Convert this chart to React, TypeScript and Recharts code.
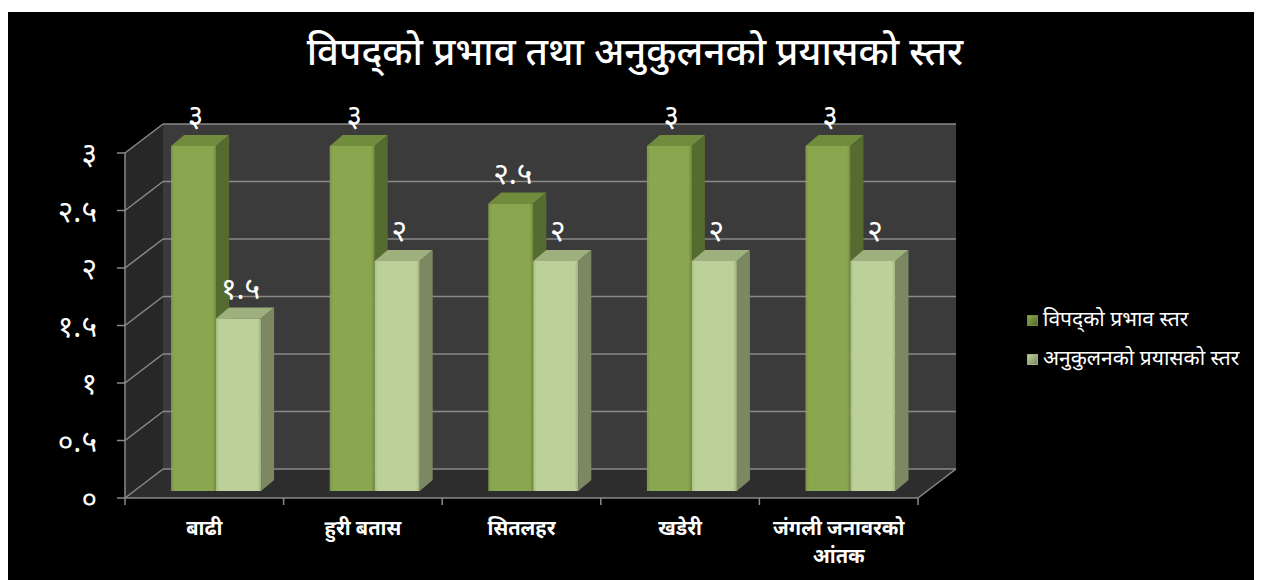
import React from 'react'
import { BarChart, Bar, XAxis, YAxis, CartesianGrid, LabelList } from 'recharts'

const categories = ['बाढी', 'हुरी बतास', 'सितलहर', 'खडेरी', 'जंगली जनावरको आंतक']
const impactLevel = [3, 3, 2.5, 3, 3]
const adaptationLevel = [1.5, 2, 2, 2, 2]
const yTicks = [0, 0.5, 1, 1.5, 2, 2.5, 3]

const SERIES = [
  { key: 'impact', label: 'विपद्को प्रभाव स्तर', front: '#8aa64e', side: '#566b2f', top: '#708c3c' },
  { key: 'adapt', label: 'अनुकुलनको प्रयासको स्तर', front: '#bcd19a', side: '#7b8862', top: '#9eb07e' },
]

const data = categories.map((name, i) => ({ name, impact: impactLevel[i], adapt: adaptationLevel[i] }))

const W = 1254
const H = 568
// front plane of the 3D box
const PL = 117
const PR = 910
const PT = 141
const PB = 486
const DX = 38 // depth offset to back wall
const DY = 29
const BAND = (PR - PL) / categories.length
// bars sit a bit inside the box
const BX = 12
const BY = -7
const SIDE_X = 13
const SIDE_Y = 11

const FONT = '"Noto Sans Devanagari", "Lohit Devanagari", Mangal, "Noto Sans", "DejaVu Sans", sans-serif'
const GRID = '#8a8a8a'

const DEV_DIGITS = ['०', '१', '२', '३', '४', '५', '६', '७', '८', '९']
const toDev = (v: number | string) => String(v).replace(/[0-9]/g, d => DEV_DIGITS[Number(d)])

function Bar3D(props: any) {
  const { x, y, width, height } = props
  const s = SERIES[props.seriesIndex ?? 0]
  if (height == null || height <= 0) return null
  const fx = x + BX
  const fy = y + BY
  return (
    <g>
      <polygon
        points={`${fx},${fy} ${fx + SIDE_X},${fy - SIDE_Y} ${fx + width + SIDE_X},${fy - SIDE_Y} ${fx + width},${fy}`}
        fill={s.top}
      />
      <polygon
        points={`${fx + width},${fy} ${fx + width + SIDE_X},${fy - SIDE_Y} ${fx + width + SIDE_X},${fy + height - SIDE_Y} ${fx + width},${fy + height}`}
        fill={s.side}
      />
      <rect x={fx} y={fy} width={width} height={height} fill={`url(#front-${s.key})`} />
    </g>
  )
}

function BarLabel(props: any) {
  const { x, y, width, value } = props
  return (
    <text
      x={x + BX + width / 2 + 2}
      y={y + BY - SIDE_Y - 9}
      textAnchor="middle"
      fill="#fff"
      fontSize={30}
      fontFamily={FONT}
    >
      {toDev(value)}
    </text>
  )
}

function YTick(props: any) {
  const { x, y, payload } = props
  return (
    <text x={x} y={y} dy={11} textAnchor="end" fill="#fff" fontSize={30} fontFamily={FONT}>
      {toDev(payload.value)}
    </text>
  )
}

function XTick(props: any) {
  const { x, y, payload, index } = props
  const words = String(payload.value)
  const lines = words.length > 12 ? ['जंगली जनावरको', 'आंतक'] : [words]
  return (
    <g>
      <line x1={x - BAND / 2} x2={x - BAND / 2} y1={PB} y2={PB + 7} stroke={GRID} strokeWidth={1.5} />
      {index === categories.length - 1 && (
        <line x1={x + BAND / 2} x2={x + BAND / 2} y1={PB} y2={PB + 7} stroke={GRID} strokeWidth={1.5} />
      )}
      {lines.map((l, i) => (
        <text
          key={i}
          x={x}
          y={y + 29 + i * 28}
          textAnchor="middle"
          fill="#fff"
          fontSize={20}
          fontWeight="bold"
          fontFamily={FONT}
        >
          {l}
        </text>
      ))}
    </g>
  )
}

// back wall gridline plus the diagonal on the side wall
function GridLine(props: any) {
  const { x1, x2, y1 } = props
  return (
    <g>
      <line x1={x1} y1={y1} x2={x1 + DX} y2={y1 - DY} stroke={GRID} strokeWidth={1.5} />
      <line x1={x1 + DX} y1={y1 - DY} x2={x2 + DX} y2={y1 - DY} stroke={GRID} strokeWidth={1.5} />
    </g>
  )
}

function LegendBox() {
  return (
    <div style={{ position: 'absolute', left: 1019, top: 289, fontFamily: FONT, color: '#fff', fontSize: 21 }}>
      {SERIES.map(s => (
        <div key={s.key} style={{ display: 'flex', alignItems: 'center', height: 39 }}>
          <span
            style={{
              width: 9,
              height: 9,
              marginRight: 5,
              background: `linear-gradient(135deg, ${s.front}, ${s.side})`,
              border: `1px solid ${s.top}`,
            }}
          />
          <span>{s.label}</span>
        </div>
      ))}
    </div>
  )
}

export default function App() {
  return (
    <div style={{ position: 'relative', width: W, height: H, marginTop: 4, background: '#000' }}>
      <svg width={W} height={H} style={{ position: 'absolute', left: 0, top: 0 }}>
        {/* side wall */}
        <polygon points={`${PL},${PT} ${PL + DX},${PT - DY} ${PL + DX},${PB - DY} ${PL},${PB}`} fill="#272727" />
        {/* back wall */}
        <rect x={PL + DX} y={PT - DY} width={PR - PL} height={PB - PT} fill="#3b3b3b" />
        {/* floor */}
        <polygon points={`${PL},${PB} ${PR},${PB} ${PR + DX},${PB - DY} ${PL + DX},${PB - DY}`} fill="#2d2d2d" />
        <line x1={PR} y1={PB} x2={PR + DX} y2={PB - DY} stroke={GRID} strokeWidth={1.5} />
      </svg>
      <div
        style={{
          position: 'absolute',
          left: 0,
          top: 19,
          width: W,
          textAlign: 'center',
          color: '#fff',
          fontFamily: FONT,
          fontSize: 38.5,
          fontWeight: 500,
        }}
      >
        विपद्को प्रभाव तथा अनुकुलनको प्रयासको स्तर
      </div>
      <LegendBox />
      <div style={{ position: 'absolute', left: 0, top: 0 }}>
        <BarChart
          width={W}
          height={H}
          data={data}
          margin={{ top: PT, right: W - PR, bottom: 22, left: PL - 60 }}
          barGap={0}
          barCategoryGap="21.5%"
        >
          <defs>
            {SERIES.map(s => (
              <linearGradient key={s.key} id={`front-${s.key}`} x1="0" y1="0" x2="1" y2="0">
                <stop offset="0%" stopColor={s.front} stopOpacity={0.85} />
                <stop offset="8%" stopColor={s.front} />
                <stop offset="92%" stopColor={s.front} />
                <stop offset="100%" stopColor={s.top} />
              </linearGradient>
            ))}
          </defs>
          <CartesianGrid vertical={false} horizontal={(p: any) => <GridLine {...p} />} />
          <XAxis
            dataKey="name"
            height={60}
            axisLine={{ stroke: GRID, strokeWidth: 1.5 }}
            tickLine={false}
            tick={<XTick />}
            interval={0}
          />
          <YAxis
            width={60}
            domain={[0, 3]}
            ticks={yTicks}
            axisLine={{ stroke: GRID, strokeWidth: 1.5 }}
            tickLine={{ stroke: GRID, strokeWidth: 1.5 }}
            tickSize={8}
            tickMargin={20}
            tick={<YTick />}
          />
          {SERIES.map((s, si) => (
            <Bar
              key={s.key}
              dataKey={s.key}
              name={s.label}
              fill={s.front}
              isAnimationActive={false}
              shape={(p: any) => <Bar3D {...p} seriesIndex={si} />}
            >
              <LabelList dataKey={s.key} content={<BarLabel />} />
            </Bar>
          ))}
        </BarChart>
      </div>
    </div>
  )
}
